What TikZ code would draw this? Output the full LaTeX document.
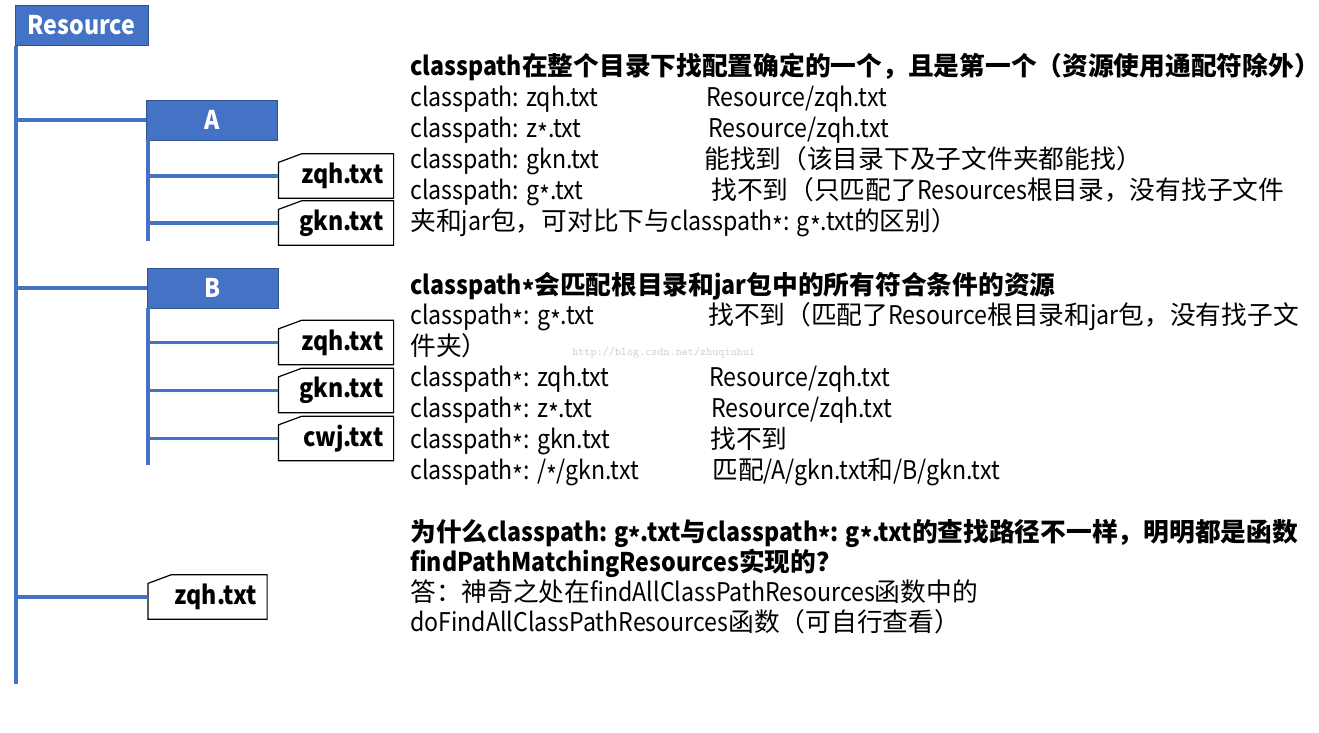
\documentclass[tikz,border=0pt]{standalone}
\usepackage{fontspec}
\setmainfont{Noto Sans CJK SC}
\newfontfamily\latn{Noto Sans CJK SC}[FakeStretch=0.9]
\newcommand\lstar{\raisebox{-0.25em}{*}}
\usepackage{xcolor}
\usepackage{tikz}
\definecolor{treeblue}{HTML}{4472C4}
\definecolor{treeedge}{HTML}{2F528F}
\tikzstyle{folder} = [rectangle, draw=treeedge, fill=treeblue, text=white, font=\bfseries\latn\fontsize{19.3}{23}\selectfont, minimum height=30pt, inner sep=0pt]
\tikzstyle{file} = [rectangle, text width=71pt, align=right, inner xsep=7.5pt, inner ysep=0pt, minimum height=33pt, font=\bfseries\latn\fontsize{19.3}{23}\selectfont]
\tikzstyle{fileedge} = [draw, line width=0.9pt]
\tikzstyle{branch} = [treeblue, line width=2.4pt]
\tikzstyle{txt} = [anchor=base west, inner sep=0pt, font=\fontsize{19.3}{23}\selectfont]
\tikzstyle{head} = [txt, font=\bfseries\fontsize{19.3}{23}\selectfont]
\begin{document}
\begin{tikzpicture}[x=0.75pt, y=-0.75pt]
\useasboundingbox (0,0) rectangle (1319,732);

% Tree: folders and files
\node[folder, minimum width=99.5pt] (res) at (81.5,25.5) {Resource};
\node[folder, minimum width=98.25pt] (fa) at (212,120) {A};
\node[folder, minimum width=98.25pt] (fb) at (212.5,288) {B};

\node[file] (a1) at (336,176) {zqh.txt};
\node[file] (a2) at (336,223) {gkn.txt};

\node[file] (b1) at (336,342.5) {zqh.txt};
\node[file] (b2) at (336,390.5) {gkn.txt};
\node[file] (b3) at (336,438.5) {cwj.txt};

\node[file, text width=74pt] (r1) at (207.5,597) {zqh.txt};

% file outlines with the cut corner
\foreach \f in {a1,a2,b1,b2,b3,r1}
  \draw[fileedge] (\f.south west) -- ([yshift=-6.5pt]\f.north west) -- ([xshift=17.5pt]\f.north west) -- (\f.north east) -- (\f.south east) -- cycle;

% ends of the vertical lines
\coordinate (trunkend) at (16,684);
\coordinate (aend) at (148,241);
\coordinate (bend) at (148,465);

% Tree lines
\draw[branch] (res.south west -| trunkend) -- (trunkend);
\draw[branch] (trunkend |- fa.west) -- (fa.west);
\draw[branch] (trunkend |- fb.west) -- (fb.west);
\draw[branch] (trunkend |- r1.west) -- (r1.west);

\draw[branch] (fa.south west -| aend) -- (aend);
\draw[branch] (aend |- a1.west) -- (a1.west);
\draw[branch] (aend |- a2.west) -- (a2.west);

\draw[branch] (fb.south west -| bend) -- (bend);
\draw[branch] (bend |- b1.west) -- (b1.west);
\draw[branch] (bend |- b2.west) -- (b2.west);
\draw[branch] (bend |- b3.west) -- (b3.west);

% First block: classpath
\node[head] (h1) at (410,75) {{\latn classpath}在整个目录下找配置确定的一个，且是第一个（资源使用通配符除外）};
\node[txt] (cp1) at (410,106) {\latn classpath: zqh.txt};
\node[txt] (ans1) at (706,106) {\latn Resource/zqh.txt};
\node[txt] (cp2) at (410,137) {\latn classpath: z\lstar.txt};
\node[txt] (ans2) at (708,137) {\latn Resource/zqh.txt};
\node[txt] (cp3) at (410,168) {\latn classpath: gkn.txt};
\node[txt] (ans3) at (704,168) {能找到（该目录下及子文件夹都能找）};
\node[txt] (cp4) at (410,199) {\latn classpath: g\lstar.txt};
\node[txt] (ans4) at (711,199) {找不到（只匹配了{\latn Resources}根目录，没有找子文件};
\node[txt] (ans4b) at (410,230) {夹和{\latn jar}包，可对比下与{\latn classpath\lstar: g\lstar.txt}的区别）};

% Second block: classpath*
\node[head] (h2) at (410,294) {{\latn classpath\lstar}会匹配根目录和{\latn jar}包中的所有符合条件的资源};
\node[txt] (cs1) at (410,324) {\latn classpath\lstar: g\lstar.txt};
\node[txt] (sans1) at (708,324) {找不到（匹配了{\latn Resource}根目录和{\latn jar}包，没有找子文};
\node[txt] (sans1b) at (410,355) {件夹）};
\node[anchor=base west, inner sep=0pt, text=black!18, font=\ttfamily\fontsize{8.7}{10}\selectfont] (wmark) at (572,355) {http://blog.csdn.net/zhuqiuhui};
\node[txt] (cs2) at (410,386) {\latn classpath\lstar: zqh.txt};
\node[txt] (sans2) at (709,386) {\latn Resource/zqh.txt};
\node[txt] (cs3) at (410,417) {\latn classpath\lstar: z\lstar.txt};
\node[txt] (sans3) at (711,417) {\latn Resource/zqh.txt};
\node[txt] (cs4) at (410,448) {\latn classpath\lstar: gkn.txt};
\node[txt] (sans4) at (710,448) {找不到};
\node[txt] (cs5) at (410,479) {\latn classpath\lstar: /\lstar/gkn.txt};
\node[txt] (sans5) at (712,479) {匹配{\latn /A/gkn.txt}和{\latn /B/gkn.txt}};

% Question
\node[head] (q1) at (410,541) {为什么{\latn classpath: g\lstar.txt}与{\latn classpath\lstar: g\lstar.txt}的查找路径不一样，明明都是函数};
\node[head] (q2) at (410,571) {{\latn findPathMatchingResources}实现的？};
\node[txt] (q3) at (410,601) {答：神奇之处在{\latn findAllClassPathResources}函数中的};
\node[txt] (q4) at (410,631) {{\latn doFindAllClassPathResources}函数（可自行查看）};

\end{tikzpicture}
\end{document}
